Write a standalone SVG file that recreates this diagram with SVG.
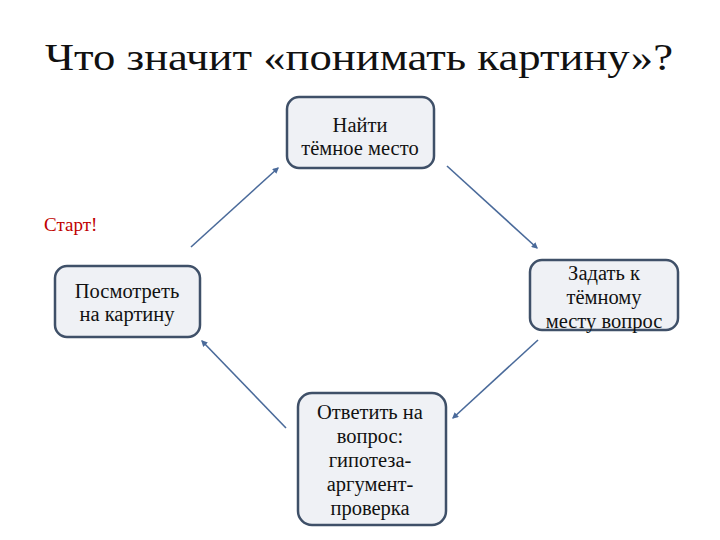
<svg xmlns="http://www.w3.org/2000/svg" width="720" height="540" viewBox="0 0 720 540">
<style>
.box{fill:#eff1f5;stroke:#3f5068;stroke-width:2.5}
.t{font-family:"Liberation Serif","DejaVu Serif",serif;font-size:20.5px;fill:#111;text-anchor:middle}
.title{font-family:"Liberation Serif","DejaVu Serif",serif;font-size:38px;fill:#111}
.start{font-family:"Liberation Serif","DejaVu Serif",serif;font-size:19px;fill:#c00000}
.c{stroke:#4a6a9a;stroke-width:1.6;fill:none;marker-end:url(#ah)}
</style>
<defs>
<marker id="ah" viewBox="0 0 10 10" refX="8" refY="5" markerWidth="4" markerHeight="4" orient="auto">
<path d="M0,0 L10,5 L0,10 z" fill="#4a6a9a"/>
</marker>
</defs>
<rect width="720" height="540" fill="#fff"/>
<text class="title" x="45" y="70" textLength="628" lengthAdjust="spacingAndGlyphs">Что значит «понимать картину»?</text>
<text class="start" x="44" y="231">Старт!</text>
<g id="connectors">
<line class="c" x1="191" y1="247" x2="278" y2="168"/>
<line class="c" x1="447" y1="166" x2="537" y2="248"/>
<line class="c" x1="538" y1="340" x2="453" y2="418"/>
<line class="c" x1="286" y1="428" x2="202" y2="341"/>
</g>
<g id="n1">
<rect class="box" x="287" y="97" width="147" height="71" rx="12"/>
<text class="t" x="360" y="132">Найти</text>
<text class="t" x="360" y="155">тёмное место</text>
</g>
<g id="n2">
<rect class="box" x="530" y="260" width="148" height="70" rx="12"/>
<text class="t" x="604" y="280">Задать к</text>
<text class="t" x="604" y="304">тёмному</text>
<text class="t" x="604" y="328">месту вопрос</text>
</g>
<g id="n3">
<rect class="box" x="298" y="393" width="148" height="132" rx="14"/>
<text class="t" x="370" y="419">Ответить на</text>
<text class="t" x="370" y="443">вопрос:</text>
<text class="t" x="370" y="467">гипотеза-</text>
<text class="t" x="370" y="491">аргумент-</text>
<text class="t" x="370" y="515">проверка</text>
</g>
<g id="n4">
<rect class="box" x="55" y="266" width="145" height="71" rx="12"/>
<text class="t" x="127" y="298">Посмотреть</text>
<text class="t" x="127" y="321">на картину</text>
</g>
</svg>
